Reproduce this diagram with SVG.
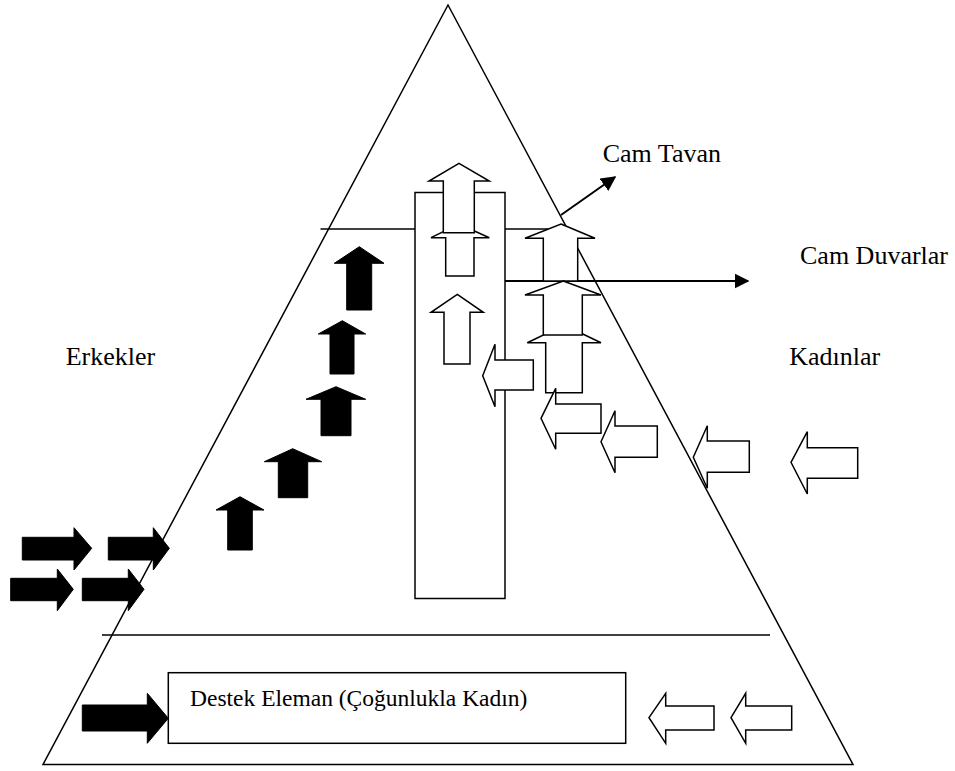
<svg xmlns="http://www.w3.org/2000/svg" width="955" height="771" viewBox="0 0 955 771">
<defs>
<style>
.ln{stroke:#000;stroke-width:1.5;fill:none}
.wa{fill:#fff;stroke:#000;stroke-width:1.5;stroke-linejoin:miter}
.ba{fill:#000;stroke:#000;stroke-width:1}
.box{fill:#fff;stroke:#000;stroke-width:1.5}
.lbl{font-family:"Liberation Serif","Times New Roman",serif;font-size:26px;fill:#000}
</style>
<marker id="ah" viewBox="0 0 10 10" refX="9" refY="5" markerWidth="7.5" markerHeight="8" orient="auto" markerUnits="strokeWidth">
<path d="M0,0 L10,5 L0,10 z" fill="#000"/>
</marker>
</defs>
<rect width="955" height="771" fill="#fff"/>

<g id="pyramid">
<polygon class="ln" points="448,5 853,764.5 43,764.5"/>
<line class="ln" x1="320.5" y1="229" x2="566" y2="229"/>
<line class="ln" x1="102" y1="635" x2="770" y2="635"/>
</g>

<g id="column">
<rect class="box" x="415" y="192.5" width="90" height="406"/>
</g>

<g id="connectors">
<line x1="505" y1="281" x2="748" y2="281" stroke="#000" stroke-width="2" marker-end="url(#ah)"/>
<line x1="561" y1="215" x2="615" y2="177" stroke="#000" stroke-width="2" marker-end="url(#ah)"/>
</g>

<g id="column-arrows">
<polygon class="wa" points="459,224 489.3,237.7 474,237.7 474,276 445.7,276 445.7,237.7 431,237.7"/>
<polygon class="wa" points="459,163.3 489.3,181 474.3,181 474.3,232.7 443.3,232.7 443.3,181 429,181"/>
<polygon class="wa" points="457.3,294.3 483.3,312.3 470,312.3 470,364 444,364 444,312.3 431,312.3"/>
</g>

<g id="women-up-arrows">
<polygon class="wa" points="561,224 595,238.3 577.7,238.3 577.7,281 543.3,281 543.3,238.3 525,238.3"/>
<polygon class="wa" points="564,325 601,342.7 582.3,342.7 582.3,392.7 545.7,392.7 545.7,342.7 527.3,342.7"/>
<polygon class="wa" points="563.3,281 601,295 582.3,295 582.3,335 543.3,335 543.3,295 525,295"/>
</g>

<g id="women-left-arrows">
<polygon class="wa" points="482.7,375.7 495,344.3 495,360 533.3,360 533.3,390 495,390 495,406.7"/>
<polygon class="wa" points="541,418.3 555.7,388.3 555.7,404 601,404 601,433.3 555.7,433.3 555.7,449.3"/>
<polygon class="wa" points="601,441.7 615,410.7 615,426 657.3,426 657.3,457.3 615,457.3 615,472.7"/>
<polygon class="wa" points="693.3,457.3 707.3,425.7 707.3,441 749.3,441 749.3,472.3 707.3,472.3 707.3,488.3"/>
<polygon class="wa" points="791,462.3 807.3,431.7 807.3,447.7 857.7,447.7 857.7,478.3 807.3,478.3 807.3,494"/>
</g>

<g id="men-up-arrows">
<polygon class="ba" points="359.3,246.7 384,263.3 371.7,263.3 371.7,310 346.7,310 346.7,263.3 334.3,263.3"/>
<polygon class="ba" points="342.3,320.7 365.7,334 354,334 354,374 330,374 330,334 318.3,334"/>
<polygon class="ba" points="336,386.7 365.7,399.3 351,399.3 351,435.7 321,435.7 321,399.3 306,399.3"/>
<polygon class="ba" points="292.7,448.7 321.7,461.7 307.7,461.7 307.7,497.7 278.3,497.7 278.3,461.7 264.3,461.7"/>
<polygon class="ba" points="240,496.7 264,510 252.3,510 252.3,550 227.7,550 227.7,510 216,510"/>
</g>

<g id="men-right-arrows">
<polygon class="ba" points="22.3,537.3 74,537.3 74,527.7 91.7,548.3 74,570 74,560 22.3,560"/>
<polygon class="ba" points="108.3,537.3 153.3,537.3 153.3,527.7 169.3,548.3 153.3,570 153.3,560 108.3,560"/>
<polygon class="ba" points="10.7,578.3 57.3,578.3 57.3,569 73.3,589.3 57.3,610.7 57.3,600.7 10.7,600.7"/>
<polygon class="ba" points="82.3,578.3 128.3,578.3 128.3,569 144,589.3 128.3,610.7 128.3,600.7 82.3,600.7"/>
</g>

<g id="support-box">
<rect class="box" x="168.3" y="672.7" width="457.4" height="70.6"/>
<text class="lbl" x="190" y="706" style="font-size:23.5px">Destek Eleman (Çoğunlukla Kadın)</text>
</g>

<g id="support-arrows">
<polygon class="ba" points="82.3,705 147.3,705 147.3,693.3 168.3,718.3 147.3,743.3 147.3,731 82.3,731"/>
<polygon class="wa" points="649,717.7 665.7,693.3 665.7,706 714,706 714,730 665.7,730 665.7,743.3"/>
<polygon class="wa" points="731,717.7 745.7,693.3 745.7,706 791.7,706 791.7,730 745.7,730 745.7,743.3"/>
</g>

<g id="labels">
<text class="lbl" x="602.7" y="161.7">Cam Tavan</text>
<text class="lbl" x="800" y="264">Cam Duvarlar</text>
<text class="lbl" x="65.7" y="365">Erkekler</text>
<text class="lbl" x="789.3" y="365">Kadınlar</text>
</g>
</svg>
